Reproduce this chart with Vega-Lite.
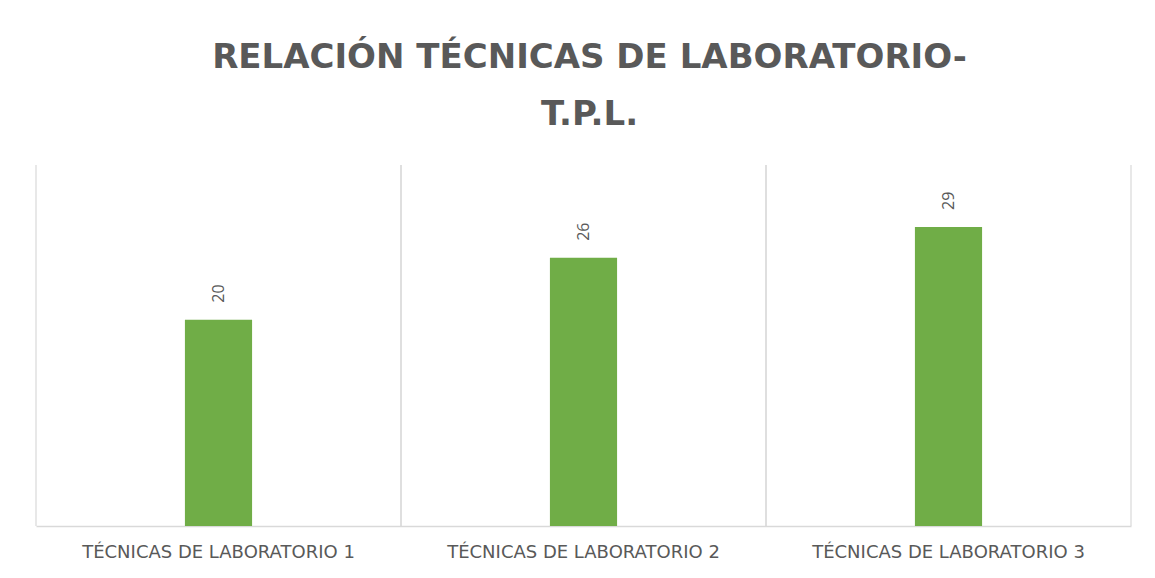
{
  "$schema": "https://vega.github.io/schema/vega-lite/v6.json",
  "autosize": {"type": "none"},
  "width": 1095,
  "height": 361,
  "padding": {"left": 36, "top": 165, "right": 24, "bottom": 52},
  "background": "white",
  "config": {"view": {"stroke": null}, "font": "Open Sans"},
  "title": {
    "text": ["RELACIÓN TÉCNICAS DE LABORATORIO-", "T.P.L."],
    "font": "DejaVu Sans",
    "fontSize": 34,
    "fontWeight": "bold",
    "color": "#595959",
    "lineHeight": 57,
    "offset": 32,
    "dx": 6,
    "anchor": "middle"
  },
  "data": {
    "values": [
      {"categoria": "TÉCNICAS DE LABORATORIO 1", "valor": 20},
      {"categoria": "TÉCNICAS DE LABORATORIO 2", "valor": 26},
      {"categoria": "TÉCNICAS DE LABORATORIO 3", "valor": 29}
    ]
  },
  "encoding": {
    "x": {
      "field": "categoria",
      "type": "nominal",
      "sort": null,
      "scale": {"paddingInner": 0, "paddingOuter": 0},
      "axis": {
        "title": null,
        "labelAngle": 0,
        "labelFont": "DejaVu Sans",
        "labelFontSize": 18,
        "labelFontWeight": "normal",
        "labelLimit": 0,
        "labelColor": "#595959",
        "labelPadding": 17,
        "ticks": false,
        "grid": false,
        "domainColor": "#d9d9d9",
        "domainWidth": 1.5
      }
    }
  },
  "layer": [
    {
      "mark": {"type": "rule", "color": "#d9d9d9", "strokeWidth": 1.2},
      "encoding": {"x": {"field": "categoria", "type": "nominal", "sort": null, "bandPosition": 0}}
    },
    {
      "mark": {"type": "rule", "color": "#d9d9d9", "strokeWidth": 1.2},
      "encoding": {"x": {"field": "categoria", "type": "nominal", "sort": null, "bandPosition": 1}}
    },
    {
      "mark": {"type": "bar", "color": "#70AD47", "width": {"band": 0.184}},
      "encoding": {
        "y": {"field": "valor", "type": "quantitative", "scale": {"domain": [0, 35]}, "axis": null}
      }
    },
    {
      "mark": {"type": "text", "angle": -90, "align": "left", "baseline": "middle", "dx": 17, "fontSize": 16, "font": "Open Sans", "color": "#595959"},
      "encoding": {
        "y": {"field": "valor", "type": "quantitative", "scale": {"domain": [0, 35]}, "axis": null},
        "text": {"field": "valor", "type": "quantitative"}
      }
    }
  ]
}
